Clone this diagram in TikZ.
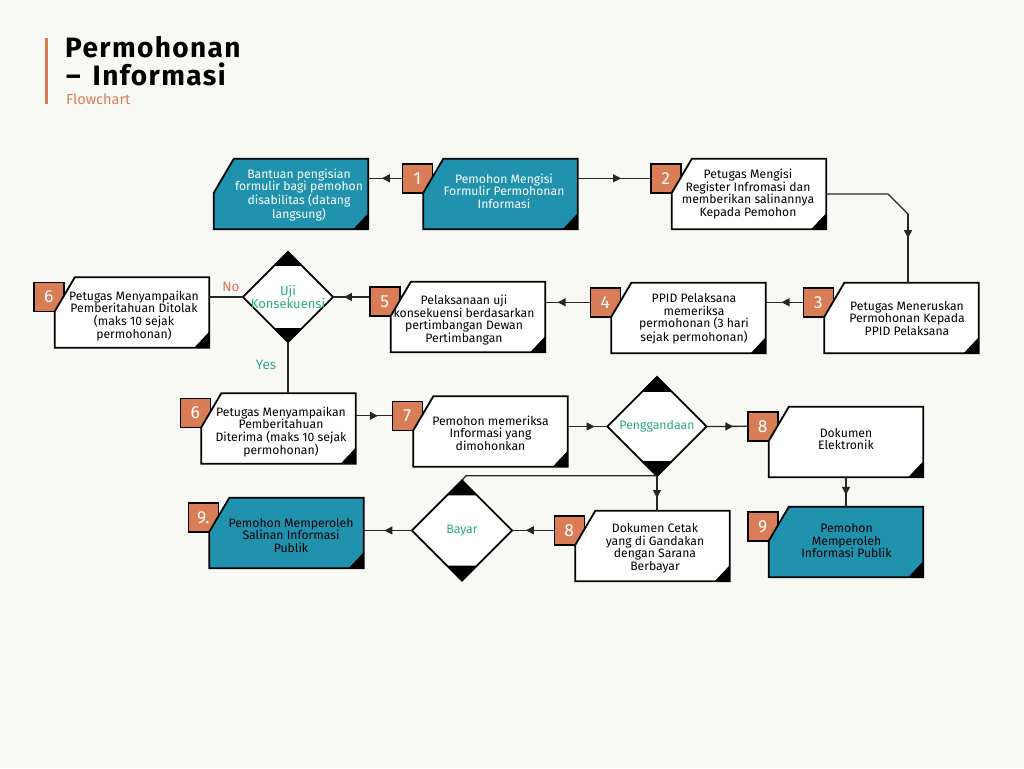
\documentclass[tikz,border=0pt]{standalone}
\usepackage{fontspec}
\setmainfont{Fira Sans}
\usetikzlibrary{arrows.meta,decorations.markings,calc}
\definecolor{bgc}{HTML}{F8F8F5}
\definecolor{tealc}{HTML}{2092AD}
\definecolor{orangec}{HTML}{D97D56}
\definecolor{greenc}{HTML}{2AAA8A}
\definecolor{noc}{HTML}{E0705E}
\definecolor{linec}{HTML}{262626}
\tikzset{
  boxframe/.style={draw=none, inner sep=0pt, minimum width=154pt, minimum height=70pt},
  diaframe/.style={draw=none, inner sep=0pt, minimum width=#1, minimum height=#1},
  boxline/.style={draw=black, line width=1.8pt, line join=miter},
  numsq/.style={draw=black, line width=1.6pt, fill=orangec, inner sep=0pt,
    minimum width=30pt, minimum height=29pt, text=white, font=\fontsize{17.5}{17.5}\selectfont},
  boxtext/.style={align=center, inner sep=0pt, font=\fontsize{12.2}{12.5}\selectfont},
  diatext/.style={align=center, inner sep=0pt, text=greenc, font=\fontsize{12.3}{12.6}\selectfont},
  conn/.style={draw=linec, line width=1.3pt},
  ar/.style={postaction=decorate, decoration={markings,
    mark=at position #1 with {\arrow[linec]{Triangle[length=8pt,width=8pt]}}}},
  ar/.default=0.62,
  lbl/.style={inner sep=0pt, font=\fontsize{13.5}{13.5}\selectfont},
  titlef/.style={anchor=base west, inner sep=0pt, font=\fontsize{28}{28}\selectfont\bfseries\addfontfeatures{LetterSpace=5}}
}
% name, center, fill, number, text center, text colour, text
\newcommand\flowbox[7]{%
  \node[boxframe] (#1) at #2 {};
  \ifx&#4&\else\node[numsq] (#1n) at ([xshift=-6pt,yshift=-19.5pt]#1.north west) {#4};\fi
  \filldraw[boxline, fill=#3] ([xshift=20pt]#1.north west) -- (#1.north east) -- (#1.south east)
     -- (#1.south west) -- ([yshift=-34pt]#1.north west) -- cycle;
  \fill[black] ([yshift=16pt]#1.south east) -- (#1.south east) -- ([xshift=-15pt]#1.south east) -- cycle;
  \node[boxtext, text=#6] (#1t) at #5 {#7};
}
% name, center, size, depth, text
\newcommand\flowdia[5]{%
  \node[diaframe=#3] (#1) at #2 {};
  \filldraw[boxline, fill=white] (#1.north) -- (#1.east) -- (#1.south) -- (#1.west) -- cycle;
  \fill[black] (#1.north) -- ([xshift=-#4,yshift=-#4]#1.north) -- ([xshift=#4,yshift=-#4]#1.north) -- cycle;
  \fill[black] (#1.south) -- ([xshift=-#4,yshift=#4]#1.south) -- ([xshift=#4,yshift=#4]#1.south) -- cycle;
  \node[diatext] (#1t) at (#1.center) {#5};
}
\begin{document}
\begin{tikzpicture}[x=1pt,y=-1pt]
\fill[bgc] (0,0) rectangle (1024,768);
\useasboundingbox (0,0) rectangle (1024,768);

% title
\fill[orangec] (45,38) rectangle (48,104);
\node[titlef] (t1) at (65,57) {Permohonan};
\node[titlef] (t2) at (66,85) {\textendash\hspace{12pt}Informasi};
\node[anchor=base west, inner sep=0pt, text=orangec, font=\fontsize{14.5}{14.5}\selectfont] (t3) at (66,104) {Flowchart};

% boxes
\flowbox{bant}{(291,194)}{tealc}{}{(299,195)}{white}{Bantuan pengisian\\formulir bagi pemohon\\disabilitas (datang\\langsung)}
\flowbox{b1}{(500.5,194)}{tealc}{1}{(504,191)}{white}{Pemohon Mengisi\\Formulir Permohonan\\Informasi}
\flowbox{b2}{(749,194)}{white}{2}{(748,194)}{black}{Petugas Mengisi\\Register Infromasi dan\\memberikan salinannya\\Kepada Pemohon}
\flowbox{b3}{(901.5,318)}{white}{3}{(907,318)}{black}{Petugas Meneruskan\\Permohonan Kepada\\PPID Pelaksana}
\flowbox{b4}{(688.5,318)}{white}{4}{(694,319)}{black}{PPID Pelaksana\\memeriksa\\permohonan (3 hari\\sejak permohonan)}
\flowbox{b5}{(468,317)}{white}{5}{(464,320)}{black}{Pelaksanaan uji\\konsekuensi berdasarkan\\pertimbangan Dewan\\Pertimbangan}
\flowbox{b6}{(132,312.5)}{white}{6}{(134,316)}{black}{Petugas Menyampaikan\\Pemberitahuan Ditolak\\(maks 10 sejak\\permohonan)}
\flowbox{b6b}{(278.5,428.5)}{white}{6}{(281,432)}{black}{Petugas Menyampaikan\\Pemberitahuan\\Diterima (maks 10 sejak\\permohonan)}
\flowbox{b7}{(490.5,431.5)}{white}{7}{(490.5,433)}{black}{Pemohon memeriksa\\Informasi yang\\dimohonkan}
\flowbox{b8}{(846,442)}{white}{8}{(846,439)}{black}{Dokumen\\Elektronik}
\flowbox{b8b}{(652.5,546)}{white}{8}{(655,548)}{black}{Dokumen Cetak\\yang di Gandakan\\dengan Sarana\\Berbayar}
\flowbox{b9}{(846,542)}{tealc}{9}{(846.5,541)}{black}{Pemohon\\Memperoleh\\Informasi Publik}
\flowbox{b9d}{(286.5,533)}{tealc}{9.}{(291,535)}{black}{Pemohon Memperoleh\\Salinan Informasi\\Publik}

% decisions
\flowdia{uji}{(288,297)}{90pt}{14pt}{\fontsize{13}{13}\selectfont Uji\\\fontsize{13}{13}\selectfont Konsekuensi}
\flowdia{pg}{(657,426.5)}{99pt}{15pt}{Penggandaan}
\flowdia{by}{(462,530.5)}{100pt}{15pt}{Bayar}

% labels
\node[lbl, text=noc] (lno) at (231,287) {No};
\node[lbl, text=greenc] (lyes) at (266,365) {Yes};

% connectors
\draw[conn, ar=0.59] (b1n.west) -- (b1n.west -| bant.east);
\draw[conn, ar=0.6] (b1.east |- b2n.west) -- (b2n.west);
\coordinate (k2) at (908,214);
\draw[conn] (b2.east) -- ([xshift=-20pt]k2 |- b2.east) -- (k2) -- (k2 |- b3.north);
\draw[conn, ar=0.35] (k2) -- (k2 |- b3.north);
\draw[conn, ar=0.57] (b3n.west) -- (b3n.west -| b4.east);
\draw[conn, ar=0.72] (b4n.west) -- (b4n.west -| b5.east);
\draw[conn, ar=0.7] (uji.east -| b5n.west) -- (uji.east);
\draw[conn] (uji.west) -- (uji.west -| b6.east);
\draw[conn] (uji.south) -- (uji.south |- b6b.north);
\draw[conn, ar=0.62] (b7n.west -| b6b.east) -- (b7n.west);
\draw[conn, ar=0.68] (pg.west -| b7.east) -- (pg.west);
\draw[conn, ar=0.66] (pg.east) -- (b8n.west);
\draw[conn, ar=0.6] (b8.south) -- (b8.south |- b9.north);
\draw[conn, ar=0.63] (pg.south) -- (pg.south |- b8b.north);
\coordinate (kb) at ([xshift=4pt,yshift=4.5pt]by.north);
\draw[conn] (by.north) -- (kb) -- (kb -| pg.south);
\draw[conn, ar=0.67] (b8bn.west) -- (b8bn.west -| by.east);
\draw[conn, ar=0.57] (by.west) -- (by.west -| b9d.east);
\end{tikzpicture}
\end{document}
